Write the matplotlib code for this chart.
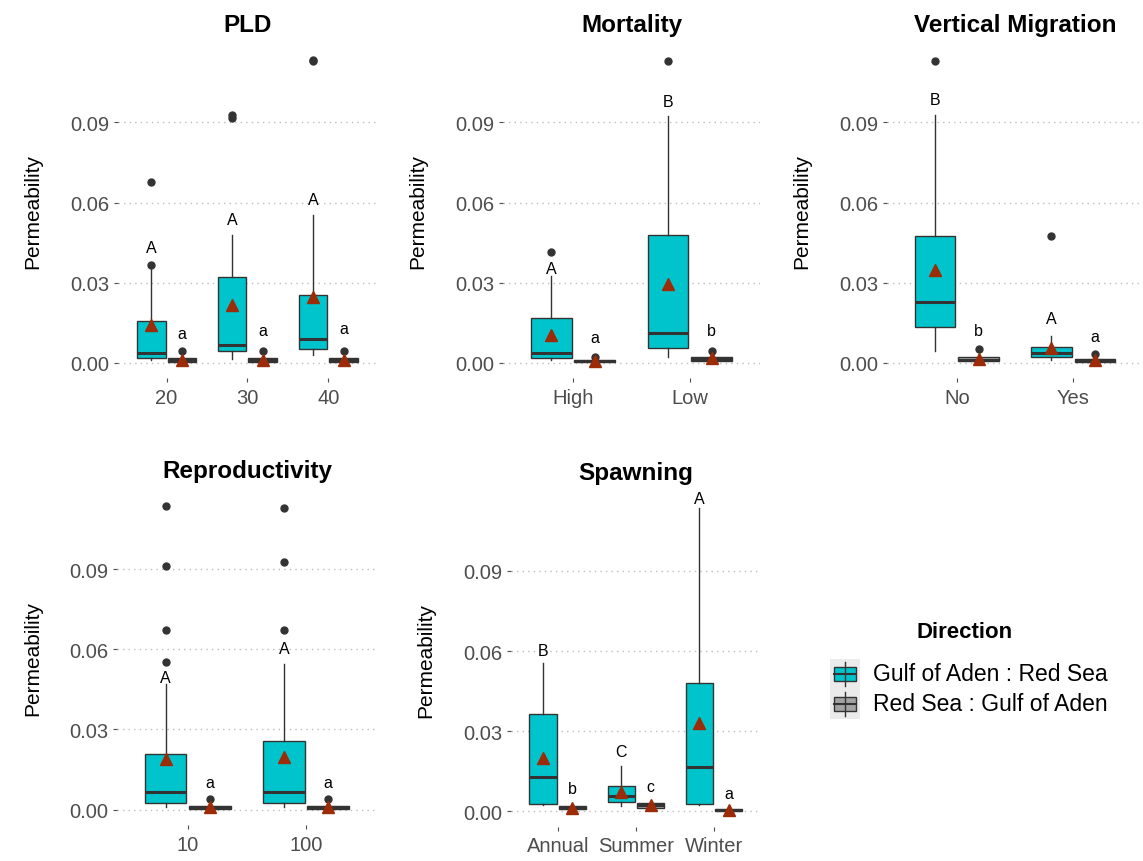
import matplotlib
matplotlib.use("Agg")
import matplotlib.pyplot as plt
from matplotlib.patches import Rectangle

plt.rcParams["font.family"] = ["Liberation Sans", "DejaVu Sans"]

TEAL = "#00C4CC"
GREY = "#A3A3A3"
EDGE = "#333333"
MEAN_COL = "#9C2B07"

# five-number summaries per category: (whislo, q1, med, q3, whishi)
# "gar" = Gulf of Aden : Red Sea, "rag" = Red Sea : Gulf of Aden
pld_cats = ["20", "30", "40"]
pld_gar_box = [(0.0010, 0.0019, 0.0037, 0.0157, 0.0350),
               (0.0016, 0.0045, 0.0066, 0.0320, 0.0478),
               (0.0028, 0.0053, 0.0090, 0.0254, 0.0553)]
pld_gar_mean = [0.0140, 0.0215, 0.0246]
pld_gar_fliers = [[0.0367, 0.0675], [0.0917, 0.0929], [0.1128, 0.1134]]
pld_gar_letter = ["A", "A", "A"]
pld_gar_letter_y = [0.0433, 0.0538, 0.0612]
pld_rag_box = [(0.0000, 0.0004, 0.0010, 0.0018, 0.0035),
               (0.0000, 0.0004, 0.0010, 0.0018, 0.0035),
               (0.0000, 0.0004, 0.0010, 0.0018, 0.0035)]
pld_rag_mean = [0.0010, 0.0011, 0.0012]
pld_rag_fliers = [[0.0045], [0.0045], [0.0045]]
pld_rag_letter = ["a", "a", "a"]
pld_rag_letter_y = [0.0110, 0.0120, 0.0128]

mort_cats = ["High", "Low"]
mort_gar_box = [(0.0010, 0.0019, 0.0037, 0.0169, 0.0326),
                (0.0022, 0.0056, 0.0112, 0.0478, 0.0925)]
mort_gar_mean = [0.0103, 0.0295]
mort_gar_fliers = [[0.0414], [0.1131]]
mort_gar_letter = ["A", "B"]
mort_gar_letter_y = [0.0354, 0.0980]
mort_rag_box = [(0.0000, 0.0002, 0.0005, 0.0010, 0.0016),
                (0.0000, 0.0006, 0.0013, 0.0023, 0.0038)]
mort_rag_mean = [0.0008, 0.0018]
mort_rag_fliers = [[0.0020], [0.0045]]
mort_rag_letter = ["a", "b"]
mort_rag_letter_y = [0.0093, 0.0120]

vm_cats = ["No", "Yes"]
vm_gar_box = [(0.0043, 0.0133, 0.0226, 0.0475, 0.0926),
              (0.0011, 0.0022, 0.0037, 0.0060, 0.0101)]
vm_gar_mean = [0.0347, 0.0056]
vm_gar_fliers = [[0.1131], [0.0475]]
vm_gar_letter = ["B", "A"]
vm_gar_letter_y = [0.0987, 0.0164]
vm_rag_box = [(0.0000, 0.0006, 0.0012, 0.0022, 0.0040),
              (0.0000, 0.0004, 0.0009, 0.0014, 0.0025)]
vm_rag_mean = [0.0015, 0.0010]
vm_rag_fliers = [[0.0052], [0.0033]]
vm_rag_letter = ["b", "a"]
vm_rag_letter_y = [0.0121, 0.0097]

rep_cats = ["10", "100"]
rep_gar_box = [(0.0010, 0.0023, 0.0065, 0.0207, 0.0470),
               (0.0010, 0.0023, 0.0065, 0.0255, 0.0545)]
rep_gar_mean = [0.0188, 0.0197]
rep_gar_fliers = [[0.0554, 0.0672, 0.0913, 0.1138], [0.0673, 0.0928, 0.1128]]
rep_gar_letter = ["A", "A"]
rep_gar_letter_y = [0.0495, 0.0602]
rep_rag_box = [(0.0000, 0.0003, 0.0009, 0.0015, 0.0030),
               (0.0000, 0.0003, 0.0009, 0.0015, 0.0030)]
rep_rag_mean = [0.0008, 0.0008]
rep_rag_fliers = [[0.0040], [0.0040]]
rep_rag_letter = ["a", "a"]
rep_rag_letter_y = [0.0103, 0.0103]

spawn_cats = ["Annual", "Summer", "Winter"]
spawn_gar_box = [(0.0025, 0.0029, 0.0130, 0.0366, 0.0556),
                 (0.0020, 0.0035, 0.0056, 0.0094, 0.0171),
                 (0.0025, 0.0029, 0.0165, 0.0479, 0.1136)]
spawn_gar_mean = [0.0198, 0.0074, 0.0329]
spawn_gar_fliers = [[], [], []]
spawn_gar_letter = ["B", "C", "A"]
spawn_gar_letter_y = [0.0603, 0.0223, 0.1170]
spawn_rag_box = [(0.0003, 0.0007, 0.0012, 0.0020, 0.0025),
                 (0.0010, 0.0013, 0.0022, 0.0032, 0.0036),
                 (0.0000, 0.0000, 0.0003, 0.0008, 0.0010)]
spawn_rag_mean = [0.0013, 0.0025, 0.0003]
spawn_rag_fliers = [[], [], []]
spawn_rag_letter = ["b", "c", "a"]
spawn_rag_letter_y = [0.0084, 0.0091, 0.0068]

y_ticks = [0.0, 0.03, 0.06, 0.09]
legend_labels = ["Gulf of Aden : Red Sea", "Red Sea : Gulf of Aden"]


def make_stats(box, means, fliers):
    stats = []
    for (lo, q1, med, q3, hi), m, fl in zip(box, means, fliers):
        stats.append(dict(whislo=lo, q1=q1, med=med, q3=q3, whishi=hi,
                          mean=m, fliers=fl))
    return stats


def draw_panel(ax, title, cats, series):
    x = list(range(1, len(cats) + 1))
    offset = 0.1875
    for i, (box, means, fliers, letters, letter_y, color) in enumerate(series):
        pos = [p + (2 * i - 1) * offset for p in x]
        ax.bxp(make_stats(box, means, fliers), positions=pos, widths=0.35,
               patch_artist=True, showcaps=False, showmeans=True,
               boxprops=dict(facecolor=color, edgecolor=EDGE, linewidth=1.0),
               whiskerprops=dict(color=EDGE, linewidth=1.0),
               medianprops=dict(color=EDGE, linewidth=2.2),
               meanprops=dict(marker="^", markerfacecolor=MEAN_COL,
                              markeredgecolor=MEAN_COL, markersize=8.5),
               flierprops=dict(marker="o", markerfacecolor=EDGE,
                               markeredgecolor=EDGE, markersize=5))
        for p, lab, ly in zip(pos, letters, letter_y):
            ax.text(p, ly, lab, ha="center", va="center", fontsize=11.5,
                    color="black")

    ax.set_xlim(0.4, len(cats) + 0.6)
    ax.set_ylim(-0.0057, 0.1197)
    ax.set_xticks(x)
    ax.set_xticklabels(cats)
    ax.set_yticks(y_ticks)
    ax.set_yticklabels([f"{t:.2f}" for t in y_ticks])
    ax.tick_params(axis="both", colors="#4D4D4D", labelsize=14.5, length=3,
                   width=0.8, labelcolor="#4D4D4D")
    ax.tick_params(axis="x", pad=4)
    ax.tick_params(axis="y", pad=3)
    for s in ax.spines.values():
        s.set_visible(False)
    ax.yaxis.grid(True, linestyle=(0, (1, 3)), color="#BDBDBD", linewidth=1.0)
    ax.xaxis.grid(False)
    ax.set_axisbelow(True)
    ax.set_ylabel("Permeability", fontsize=15, labelpad=20)
    ax.set_title(title, fontsize=17.5, fontweight="bold", pad=9)


fig = plt.figure(figsize=(11.43, 8.62), dpi=100)

panels = [
    ([0.1032, 0.5603, 0.2266, 0.3886], "PLD", pld_cats,
     [(pld_gar_box, pld_gar_mean, pld_gar_fliers, pld_gar_letter, pld_gar_letter_y, TEAL),
      (pld_rag_box, pld_rag_mean, pld_rag_fliers, pld_rag_letter, pld_rag_letter_y, GREY)]),
    ([0.4400, 0.5603, 0.2249, 0.3886], "Mortality", mort_cats,
     [(mort_gar_box, mort_gar_mean, mort_gar_fliers, mort_gar_letter, mort_gar_letter_y, TEAL),
      (mort_rag_box, mort_rag_mean, mort_rag_fliers, mort_rag_letter, mort_rag_letter_y, GREY)]),
    ([0.7760, 0.5603, 0.2240, 0.3886], "Vertical Migration", vm_cats,
     [(vm_gar_box, vm_gar_mean, vm_gar_fliers, vm_gar_letter, vm_gar_letter_y, TEAL),
      (vm_rag_box, vm_rag_mean, vm_rag_fliers, vm_rag_letter, vm_rag_letter_y, GREY)]),
    ([0.1024, 0.0420, 0.2273, 0.3886], "Reproductivity", rep_cats,
     [(rep_gar_box, rep_gar_mean, rep_gar_fliers, rep_gar_letter, rep_gar_letter_y, TEAL),
      (rep_rag_box, rep_rag_mean, rep_rag_fliers, rep_rag_letter, rep_rag_letter_y, GREY)]),
    ([0.4470, 0.0400, 0.2187, 0.3886], "Spawning", spawn_cats,
     [(spawn_gar_box, spawn_gar_mean, spawn_gar_fliers, spawn_gar_letter, spawn_gar_letter_y, TEAL),
      (spawn_rag_box, spawn_rag_mean, spawn_rag_fliers, spawn_rag_letter, spawn_rag_letter_y, GREY)]),
]

for rect, title, cats, series in panels:
    ax = fig.add_axes(rect)
    draw_panel(ax, title, cats, series)

# legend drawn by hand to get the ggplot-style boxplot keys
lax = fig.add_axes([820 / 1143, 1 - 730 / 862, 323 / 1143, 130 / 862])
lax.set_xlim(0, 323)
lax.set_ylim(130, 0)
lax.axis("off")
lax.text(145, 33, "Direction", ha="center", va="center", fontsize=16,
         fontweight="bold")
for k, (lab, col) in enumerate(zip(legend_labels, [TEAL, GREY])):
    yc = 75 + k * 30
    lax.add_patch(Rectangle((10, yc - 15), 30, 30, facecolor="#EBEBEB",
                            edgecolor="none"))
    lax.plot([25, 25], [yc - 12, yc + 12], color=EDGE, lw=1.0)
    lax.add_patch(Rectangle((14, yc - 7), 22, 14, facecolor=col,
                            edgecolor=EDGE, lw=1.0))
    lax.plot([14, 36], [yc, yc], color=EDGE, lw=1.5)
    lax.text(53, yc, lab, ha="left", va="center", fontsize=16.5)

fig.savefig("out.png", dpi=100)
